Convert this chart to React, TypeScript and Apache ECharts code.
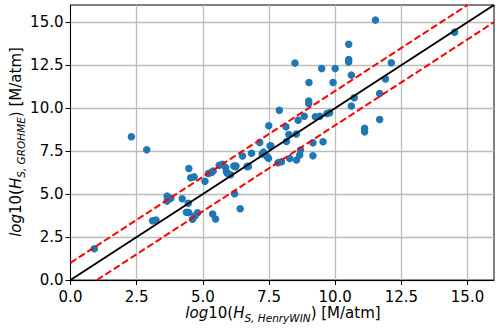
import React, { useEffect, useRef } from "react";
import * as echarts from "echarts";

const xHenryWIN: number[] = [
  0.9, 2.3, 2.88, 3.1, 3.23, 3.65, 3.65, 3.79, 4.22, 4.45, 4.38, 4.47, 4.61, 4.7, 4.8,
  4.47, 4.54, 4.67, 5.08, 5.21, 5.33, 5.39, 5.62, 5.74, 5.86, 5.89, 5.93, 6.05, 6.17, 6.23,
  6.2, 6.41, 5.37, 5.48, 6.5, 6.67, 6.84, 7.15, 7.29, 7.24, 7.43, 7.48, 7.54, 7.84, 7.97,
  7.89, 7.49, 8.14, 8.25, 8.53, 8.16, 8.6, 8.83, 9.0, 9.0, 9.25, 9.42, 9.69, 9.79, 9.16,
  9.54, 8.28, 8.54, 8.66, 8.69, 9.16, 8.48, 9.49, 10.0, 10.51, 10.51, 10.61, 9.01, 9.92, 10.51,
  10.72, 10.61, 11.11, 11.11, 11.52, 11.68, 11.68, 11.9, 12.12, 14.51, 6.72, 6.25, 7.57
];
const yGROHME: number[] = [
  1.82, 8.33, 7.58, 3.45, 3.49, 4.88, 4.59, 4.75, 4.73, 4.46, 3.94, 3.92, 3.53, 3.72, 3.91,
  6.49, 5.95, 6.0, 5.74, 6.2, 6.26, 6.34, 6.67, 6.73, 6.55, 6.3, 6.2, 6.12, 6.63, 6.59,
  5.02, 4.15, 3.84, 3.55, 7.21, 6.61, 7.37, 8.0, 7.44, 7.33, 7.17, 7.09, 7.79, 6.82, 6.88,
  9.88, 8.97, 8.91, 8.47, 8.49, 8.06, 9.3, 9.53, 10.41, 10.27, 9.5, 9.53, 9.69, 9.73, 7.98,
  8.04, 7.07, 6.98, 7.27, 7.56, 7.23, 12.62, 12.3, 12.3, 12.83, 12.69, 11.92, 11.49, 11.49, 13.72,
  10.6, 10.12, 8.82, 8.62, 15.12, 10.85, 9.34, 11.7, 12.64, 14.42, 6.61, 6.63, 7.81
];
const parityLine: number[][] = [[0, 0], [16, 16]];
const upperBound: number[][] = [[0, 1], [15, 16]];
const lowerBound: number[][] = [[1, 0], [16, 15]];
const tickValues: number[] = [0, 2.5, 5, 7.5, 10, 12.5, 15];

const FONT = "DejaVu Sans";

export default function App() {
  const ref = useRef<HTMLDivElement>(null);
  useEffect(() => {
    if (!ref.current) return;
    const chart = echarts.init(ref.current, null, { renderer: "svg" });
    const points = xHenryWIN.map((x, i) => [x, yGROHME[i]]);
    const axisCommon = {
      type: "value" as const,
      min: 0,
      max: 16,
      interval: 2.5,
      axisLine: { show: true, lineStyle: { color: "#000", width: 1 } },
      axisTick: {
        show: true,
        inside: false,
        length: 5,
        customValues: tickValues,
        lineStyle: { color: "#000", width: 1 },
      },
      splitLine: { show: true, lineStyle: { color: "#bcbcbc", width: 1.3 } },
    };
    const rich = {
      it: { fontFamily: FONT, fontStyle: "italic", fontSize: 15, lineHeight: 20, color: "#000" },
      rm: { fontFamily: FONT, fontSize: 15, lineHeight: 20, color: "#000" },
      sub: {
        fontFamily: FONT,
        fontStyle: "italic",
        fontSize: 10.5,
        lineHeight: 11,
        verticalAlign: "bottom",
        color: "#000",
      },
    };
    const labelStyle = {
      customValues: tickValues,
      formatter: (v: number) => v.toFixed(1),
      fontFamily: FONT,
      fontSize: 15,
      color: "#000",
    };
    chart.setOption({
      animation: false,
      backgroundColor: "#fff",
      grid: {
        left: 70.5,
        right: 6,
        top: 5,
        bottom: 54,
        show: true,
        borderColor: "#000",
        borderWidth: 1,
        containLabel: false,
      },
      xAxis: { ...axisCommon, axisLabel: { ...labelStyle, margin: 9 } },
      yAxis: { ...axisCommon, axisLabel: { ...labelStyle, margin: 7 } },
      graphic: [
        {
          type: "text",
          x: 283,
          y: 313,
          style: {
            text: "{it|log}{rm|10(}{it|H}{sub|S, HenryWIN}{rm|) [M/atm]}",
            rich,
            align: "center",
            verticalAlign: "middle",
          },
        },
        {
          type: "text",
          x: 16,
          y: 142,
          rotation: Math.PI / 2,
          style: {
            text: "{it|log}{rm|10(}{it|H}{sub|S, GROHME}{rm|) [M/atm]}",
            rich,
            align: "center",
            verticalAlign: "middle",
          },
        },
      ],
      series: [
        {
          type: "scatter",
          data: points,
          symbolSize: 7.5,
          itemStyle: { color: "#1f77b4", opacity: 1 },
          z: 2,
        },
        {
          type: "line",
          data: parityLine,
          symbol: "none",
          lineStyle: { color: "#000", width: 2 },
          z: 3,
        },
        {
          type: "line",
          data: upperBound,
          symbol: "none",
          lineStyle: { color: "#ff0000", width: 2, type: [7, 3] },
          z: 3,
        },
        {
          type: "line",
          data: lowerBound,
          symbol: "none",
          lineStyle: { color: "#ff0000", width: 2, type: [7, 3] },
          z: 3,
        },
      ],
    });
    return () => chart.dispose();
  }, []);
  return <div ref={ref} style={{ width: 500, height: 334, position: "absolute", left: 0, top: 0 }} />;
}
